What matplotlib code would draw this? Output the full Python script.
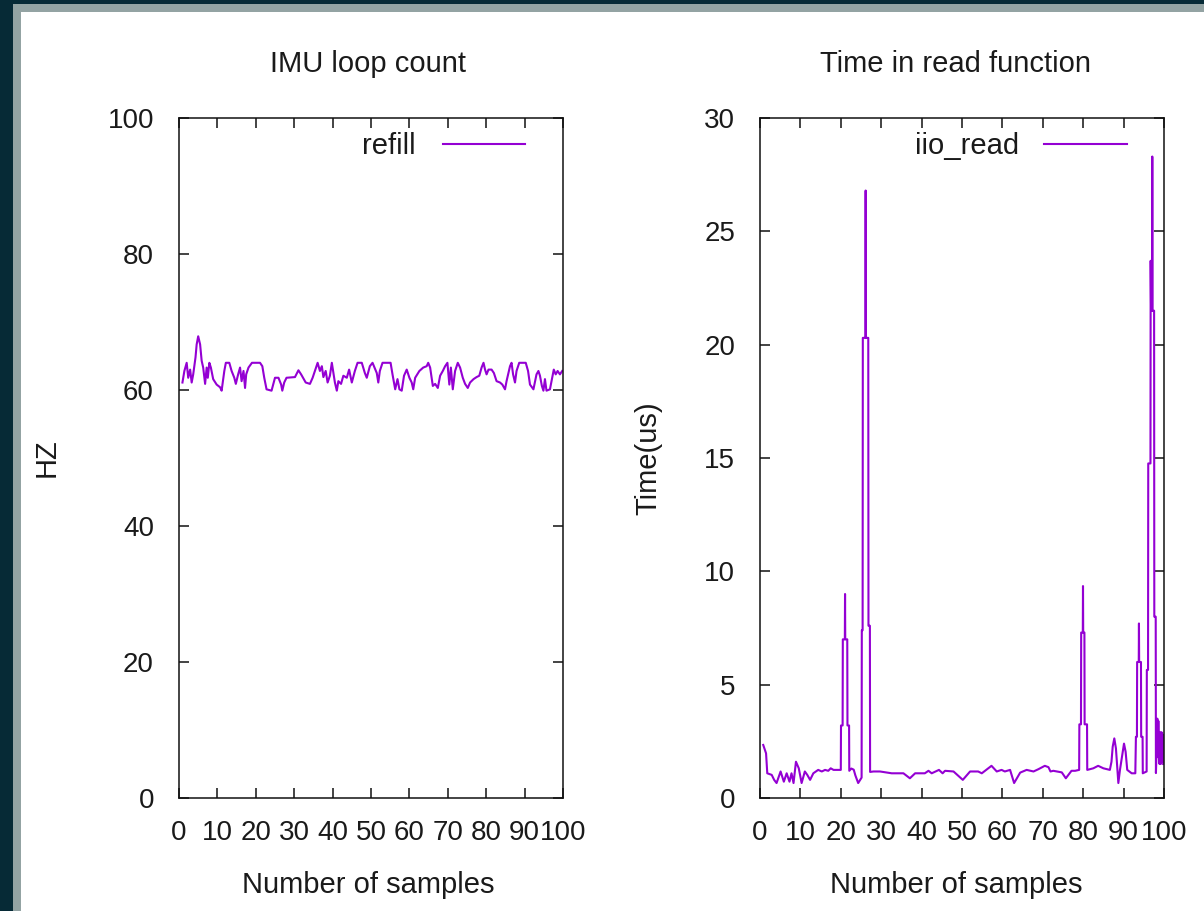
import matplotlib
matplotlib.use("Agg")
import matplotlib.pyplot as plt
from matplotlib.patches import Rectangle

# ---------------- data ----------------
titles = ["IMU loop count", "Time in read function"]
ylabels = ["HZ", "Time(us)"]
xlabel = "Number of samples"
legend_labels = ["refill", "iio_read"]
x_ticks = [0, 10, 20, 30, 40, 50, 60, 70, 80, 90, 100]
left_yticks = [0, 20, 40, 60, 80, 100]
right_yticks = [0, 5, 10, 15, 20, 25, 30]

refill_x = [0.9, 1.4, 2.0, 2.4, 2.9, 3.3, 3.7, 4.3, 4.6, 5.0, 5.5, 5.9, 6.3, 6.8, 7.2, 7.5,
            7.9, 8.3, 8.9, 9.8, 10.7, 11.1, 11.8, 12.2, 13.1, 13.7, 14.4, 14.8, 15.4, 15.9,
            16.3, 16.8, 17.2, 17.5, 18.1, 19.0, 21.1, 21.7, 22.2, 22.8, 24.1, 25.0, 25.9,
            26.6, 26.9, 27.4, 28.0, 30.2, 31.1, 31.8, 33.0, 34.1, 34.8, 35.4, 36.1, 36.7,
            37.2, 37.6, 38.2, 38.7, 39.3, 39.8, 40.2, 40.6, 41.1, 41.5, 42.2, 42.8, 43.7,
            44.3, 45.0, 45.8, 46.5, 47.6, 48.4, 48.9, 49.7, 50.4, 51.5, 51.9, 52.3, 53.0,
            55.1, 55.6, 56.3, 56.9, 57.4, 58.0, 58.6, 59.3, 60.0, 60.6, 61.0, 61.5, 62.6,
            63.6, 64.5, 64.9, 65.4, 66.1, 66.7, 67.4, 68.0, 68.7, 69.3, 69.9, 70.4, 70.8,
            71.3, 71.9, 72.6, 73.2, 73.9, 74.5, 75.2, 75.8, 76.7, 77.5, 78.2, 78.8, 79.3,
            79.7, 80.1, 80.6, 81.4, 82.0, 82.7, 83.6, 84.2, 84.9, 85.3, 85.7, 86.2, 86.6,
            87.0, 87.5, 87.9, 88.6, 90.3, 90.9, 91.4, 92.3, 93.1, 93.6, 94.0, 94.5, 94.9,
            95.3, 95.7, 96.6, 97.3, 97.6, 98.1, 98.6, 99.2, 99.8]
refill_y = [61.1, 62.8, 64.0, 61.8, 63.0, 61.1, 62.3, 64.8, 66.7, 67.9, 66.7, 64.3, 63.3, 60.9,
            63.3, 61.8, 64.0, 63.3, 61.6, 60.8, 60.4, 59.9, 62.8, 64.0, 64.0, 62.8, 61.8, 60.9,
            62.3, 63.3, 61.3, 62.8, 60.3, 62.3, 63.3, 64.0, 64.0, 63.5, 61.8, 60.1, 59.9, 61.8,
            61.8, 60.8, 59.9, 61.1, 61.8, 61.9, 62.9, 62.3, 61.1, 60.9, 61.8, 62.8, 64.0, 62.8,
            63.5, 61.9, 62.8, 61.1, 62.1, 64.0, 62.5, 61.1, 59.9, 61.3, 60.9, 62.1, 61.8, 63.0,
            61.1, 62.8, 64.0, 64.0, 62.5, 61.8, 63.5, 64.0, 62.5, 61.1, 62.8, 64.0, 64.0, 62.3,
            60.1, 61.6, 60.1, 59.9, 62.1, 63.0, 61.8, 61.1, 60.1, 61.8, 62.8, 63.3, 63.5, 64.0,
            63.3, 60.6, 60.9, 60.3, 62.1, 62.8, 63.5, 64.0, 60.8, 63.3, 60.1, 62.8, 64.0, 63.3,
            61.8, 60.9, 60.3, 61.1, 61.6, 61.9, 62.1, 63.3, 64.0, 63.0, 62.3, 63.0, 63.0, 62.5,
            61.3, 61.1, 60.8, 60.1, 61.3, 62.3, 63.5, 64.0, 62.3, 61.1, 62.8, 64.0, 64.0, 62.8,
            60.8, 60.1, 62.3, 62.8, 62.1, 60.6, 59.9, 61.6, 59.9, 60.1, 62.1, 63.0, 62.3, 62.8,
            62.3, 62.8]

iio_x = [0.8, 1.5, 1.8, 2.9, 3.5, 4.1, 5.1, 5.9, 6.6, 7.3, 7.8, 8.3, 8.9, 9.6, 10.3, 11.1,
         11.7, 12.4, 13.2, 14.4, 15.3, 16.1, 16.9, 17.5, 18.2, 20.0,
         20.05, 20.45, 20.5, 21.0, 21.05, 21.1, 21.6, 21.65, 22.05, 22.1,
         22.6, 23.2, 23.6, 24.3, 25.15,
         25.2, 25.4, 25.45, 26.1, 26.15, 26.2, 26.8, 26.85, 27.2, 27.25,
         28.1, 29.7, 32.6, 35.5, 37.1, 38.4, 40.8, 41.7, 42.5, 44.3, 45.2, 45.8, 47.9,
         50.2, 52.0, 54.0, 54.9, 57.3, 58.6, 59.8, 60.6, 61.9, 62.9, 64.4, 66.0, 67.7,
         68.9, 70.5, 71.4, 71.9, 72.6, 74.7, 75.7, 77.1, 78.0, 79.0,
         79.05, 79.45, 79.5, 79.9, 79.95, 80.0, 80.3, 80.35, 80.95, 81.0,
         82.5, 83.7, 85.0, 86.6, 87.0, 87.3, 87.7, 88.1, 88.7, 89.1, 89.8, 90.1, 90.5,
         90.9, 92.0, 92.9,
         93.05, 93.3, 93.35, 93.75, 93.8, 93.85, 94.3, 94.35, 94.7, 94.75,
         95.7, 95.75, 96.05, 96.1, 96.65, 96.7, 96.8, 96.85, 96.95, 97.05, 97.1, 97.15,
         97.55, 97.6, 97.95, 98.0, 98.3, 98.35, 98.5, 98.6, 98.7, 98.9, 99.1, 99.2, 99.4,
         99.5, 99.7, 99.8]
iio_y = [2.34, 1.97, 1.09, 1.02, 0.8, 0.66, 1.17, 0.72, 1.09, 0.72, 1.09, 0.66, 1.6, 1.31,
         0.66, 1.17, 1.02, 0.8, 1.09, 1.24, 1.17, 1.24, 1.2, 1.31, 1.24, 1.24,
         3.2, 3.2, 7.0, 7.0, 9.0, 7.0, 7.0, 3.2, 3.2, 1.2,
         1.3, 1.25, 1.0, 0.66, 0.9,
         7.4, 7.4, 20.3, 20.3, 26.8, 20.3, 20.3, 7.6, 7.6, 1.15,
         1.17, 1.17, 1.09, 1.09, 0.87, 1.09, 1.09, 1.2, 1.09, 1.24, 1.09, 1.2, 1.17,
         0.8, 1.17, 1.17, 1.09, 1.42, 1.17, 1.24, 1.17, 1.24, 0.66, 1.12, 1.24, 1.17,
         1.27, 1.42, 1.36, 1.17, 1.2, 1.13, 0.87, 1.2, 1.2, 1.24,
         3.25, 3.25, 7.3, 7.3, 9.35, 7.3, 7.3, 3.25, 3.25, 1.24,
         1.31, 1.42, 1.31, 1.24, 1.6, 2.26, 2.63, 2.19, 0.66, 1.24, 2.04, 2.4, 2.04,
         1.24, 1.09, 1.09,
         2.7, 2.7, 6.0, 6.0, 7.7, 6.0, 6.0, 2.7, 2.7, 1.09,
         1.17, 5.65, 5.65, 14.76, 14.76, 23.7, 21.6, 23.5, 21.5, 21.5, 28.3, 21.5,
         21.5, 8.0, 8.0, 1.1, 2.9, 3.5, 1.8, 3.4, 2.2, 1.5, 2.9, 1.5, 2.9,
         1.6, 2.8, 1.5]

# ---------------- style ----------------
W, H = 1204, 911
plt.rcParams["font.family"] = ["Liberation Sans", "DejaVu Sans"]
text_color = "#1a1a1a"
line_color = "#9400d3"
fs = 21
tfs = 20

fig = plt.figure(figsize=(W / 100, H / 100), dpi=100, facecolor="#062a36")
fig.patches.append(Rectangle((13 / W, 0), 1, 1 - 4 / H, transform=fig.transFigure,
                             facecolor="#93a3a3", edgecolor="none", zorder=-10))
fig.patches.append(Rectangle((21 / W, 0), 1, 1 - 12 / H, transform=fig.transFigure,
                             facecolor="white", edgecolor="none", zorder=-9))

def px_axes(x0, x1, y0, y1):
    return [x0 / W, 1 - y1 / H, (x1 - x0) / W, (y1 - y0) / H]

ax1 = fig.add_axes(px_axes(179, 563, 118, 798))
ax2 = fig.add_axes(px_axes(760, 1164, 118, 798))

ax1.plot(refill_x, refill_y, color=line_color, lw=1.5, label=legend_labels[0])
ax2.plot(iio_x, iio_y, color=line_color, lw=1.5, label=legend_labels[1])

ax1.set_xlim(0, 100)
ax1.set_ylim(0, 100)
ax1.set_yticks(left_yticks)
ax2.set_xlim(0, 100)
ax2.set_ylim(0, 30)
ax2.set_yticks(right_yticks)

for ax, title, yl, cx, ylx in [(ax1, titles[0], ylabels[0], 368, 47),
                               (ax2, titles[1], ylabels[1], 956, 648)]:
    ax.set_xticks(x_ticks)
    ax.tick_params(direction="in", top=True, right=True, length=7, width=1.1,
                   labelsize=tfs, labelcolor=text_color, color="#111111")
    ax.tick_params(axis="x", pad=16)
    ax.tick_params(axis="y", pad=18)
    for s in ax.spines.values():
        s.set_linewidth(1.1)
        s.set_color("#111111")
    fig.text(cx / W, 1 - 64 / H, title, ha="center", va="center", fontsize=fs,
             color=text_color)
    fig.text(cx / W, 1 - 885 / H, xlabel, ha="center", va="center", fontsize=fs,
             color=text_color)
    fig.text(ylx / W, 1 - 458 / H, yl, ha="center", va="center", rotation=90,
             fontsize=fs, color=text_color)

ax1.legend(loc="center right", bbox_to_anchor=((525 - 179) / 384, 1 - 28 / 680),
           frameon=False, markerfirst=False, fontsize=fs, handlelength=2.8,
           handletextpad=0.95, borderpad=0, borderaxespad=0, labelcolor=text_color)
ax2.legend(loc="center right", bbox_to_anchor=((1127 - 760) / 404, 1 - 28 / 680),
           frameon=False, markerfirst=False, fontsize=fs, handlelength=2.85,
           handletextpad=0.85, borderpad=0, borderaxespad=0, labelcolor=text_color)

fig.savefig("out.png", dpi=100, facecolor=fig.get_facecolor())
